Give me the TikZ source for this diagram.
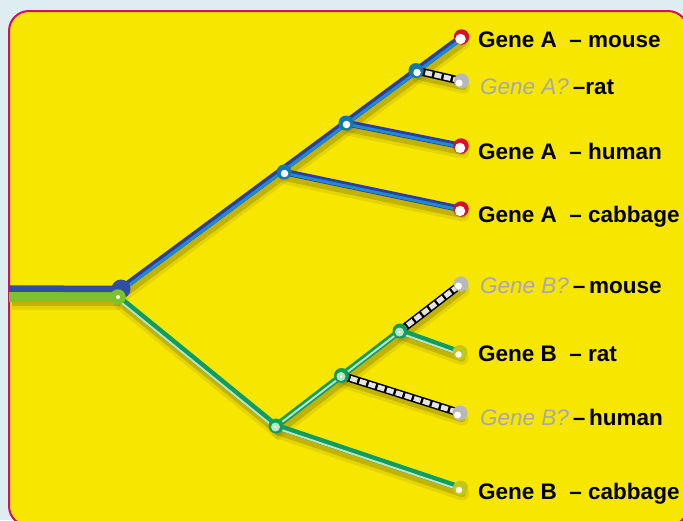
\documentclass[tikz,border=0pt]{standalone}
\usepackage{fontspec}
\setmainfont{Liberation Sans}
\definecolor{bg}{HTML}{DDEDF0}
\definecolor{panel}{HTML}{F7E600}
\definecolor{rim}{HTML}{D3105E}
\definecolor{indigo}{HTML}{2E3C9E}
\definecolor{skyb}{HTML}{1C8BD2}
\definecolor{nodeblue}{HTML}{1478B0}
\definecolor{dgreen}{HTML}{109C5C}
\definecolor{pgreen}{HTML}{B8E4C8}
\definecolor{lime}{HTML}{7CC229}
\definecolor{stemblue}{HTML}{2F4FA2}
\definecolor{leafred}{HTML}{D5102C}
\definecolor{leafgray}{HTML}{B8B8B8}
\definecolor{leafolive}{HTML}{C4C814}
\definecolor{qgray}{HTML}{A8A8A8}
\definecolor{shade}{HTML}{7A6E00}
\definecolor{dashfill}{HTML}{E4E4E4}
\pgfdeclarelayer{panellayer}
\pgfdeclarelayer{shadowlayer}
\pgfdeclarelayer{linelayer}
\pgfsetlayers{panellayer,shadowlayer,linelayer,main}
\tikzset{
  shadowwide/.style={draw=shade, line width=13, opacity=.15, line cap=round, transform canvas={xshift=2pt,yshift=-6pt}},
  shadownarrow/.style={draw=shade, line width=6.5, opacity=.32, line cap=round, transform canvas={xshift=2pt,yshift=-6pt}},
  blueouter/.style={draw=indigo, line width=6.5},
  blueinner/.style={draw=skyb, line width=3, transform canvas={xshift=1pt,yshift=-1.3pt}},
  greenouter/.style={draw=dgreen, line width=6.5},
  greeninner/.style={draw=pgreen, line width=2, transform canvas={xshift=-1.4pt,yshift=-1.7pt}},
  dashouter/.style={draw=black, line width=8},
  dashinner/.style={draw=dashfill, line width=5, dash pattern=on 7 off 2.5},
  dotnode/.style={circle, inner sep=0, minimum size=#1},
  leafredn/.style={dotnode=15.5, fill=leafred},
  leafgrayn/.style={dotnode=15, fill=leafgray},
  leafolv/.style={dotnode=15, fill=leafolive},
  innerblue/.style={dotnode=15, fill=nodeblue},
  innergreen/.style={dotnode=15, fill=dgreen},
  whitedot/.style={dotnode=#1, fill=white},
  palegreendot/.style={dotnode=#1, fill=pgreen},
  lbl/.style={anchor=base west, inner sep=0, font=\fontsize{22.5}{26}\selectfont\bfseries}
}
\begin{document}
\begin{tikzpicture}[x=1pt,y=-1pt]
\useasboundingbox (0,0) rectangle (683,520);
\clip (0,0) rectangle (683,520);
\begin{pgfonlayer}{panellayer}
\fill[bg] (0,0) rectangle (683,520);
\draw[rim, fill=panel, line width=2, rounded corners=20] (9,11) rectangle (688,526);
\end{pgfonlayer}
% positions
\coordinate (sa) at (9,288.5);
\coordinate (sb) at (9,297);
\coordinate (sbs) at (10,297);
\coordinate (r) at (121,289);
\coordinate (rg) at (118,297);
\coordinate (a1) at (284,172);
\coordinate (a2) at (346,123);
\coordinate (a3) at (416,70.5);
\coordinate (am) at (461.5,37);
\coordinate (ar) at (461.5,81);
\coordinate (ah) at (461,146);
\coordinate (ac) at (461,209);
\coordinate (b1) at (276,426);
\coordinate (b2) at (341.5,375.5);
\coordinate (b3) at (400,331);
\coordinate (bm) at (461,284);
\coordinate (br) at (460,352.5);
\coordinate (bh) at (460,413);
\coordinate (bc) at (460.5,488);
% shadows
\begin{pgfonlayer}{shadowlayer}
\foreach \s in {shadowwide,shadownarrow}{
  \draw[\s, line cap=butt] (sbs) -- (rg);
  \draw[\s] (r) -- (am);
  \draw[\s] (a3) -- (ar);
  \draw[\s] (a2) -- (ah);
  \draw[\s] (a1) -- (ac);
  \draw[\s] (rg) -- (b1) -- (bm);
  \draw[\s] (b3) -- (br);
  \draw[\s] (b2) -- (bh);
  \draw[\s] (b1) -- (bc);
}
\end{pgfonlayer}
% connectors
\begin{pgfonlayer}{linelayer}
\draw[draw=lime, line width=10] (sb) -- (rg);
\draw[draw=stemblue, line width=6.5] (sa) -- (r);
\draw[blueouter] (r) -- (am);
\draw[blueinner] (r) -- (am);
\draw[blueouter] (a2) -- (ah);
\draw[blueinner] (a2) -- (ah);
\draw[blueouter] (a1) -- (ac);
\draw[blueinner] (a1) -- (ac);
\draw[dashouter] (a3) -- (ar);
\draw[dashinner] (a3) -- (ar);
\draw[greenouter] (rg) -- (b1);
\draw[greeninner] (rg) -- (b1);
\draw[greenouter] (b1) -- (bm);
\draw[greeninner] (b1) -- (b3);
\draw[greenouter] (b3) -- (br);
\draw[greeninner] (b3) -- (br);
\draw[greenouter] (b1) -- (bc);
\draw[greeninner] (b1) -- (bc);
\draw[dashouter] (b3) -- (bm);
\draw[dashinner] (b3) -- (bm);
\draw[dashouter] (b2) -- (bh);
\draw[dashinner] (b2) -- (bh);
\end{pgfonlayer}
% tree nodes
\node[dotnode=19, fill=stemblue] (rootb) at (r) {};
\node[dotnode=15.5, fill=lime] (rootg) at (rg) {};
\node[whitedot=4] (rootw) at (rg) {};
\node[innerblue] (na1) at (a1) {};
\node[whitedot=7.5] (na1w) at ([shift={(0.5,1.5)}]a1) {};
\node[innerblue] (na2) at (a2) {};
\node[whitedot=7.5] (na2w) at ([shift={(0.5,1.5)}]a2) {};
\node[innerblue] (na3) at (a3) {};
\node[whitedot=7.5] (na3w) at ([shift={(1,2)}]a3) {};
\node[leafredn] (nam) at (am) {};
\node[whitedot=10.5] (namw) at ([shift={(-1,2)}]am) {};
\node[leafredn] (nah) at (ah) {};
\node[whitedot=10.5] (nahw) at ([shift={(-1,2)}]ah) {};
\node[leafredn] (nac) at (ac) {};
\node[whitedot=10.5] (nacw) at ([shift={(-1,2)}]ac) {};
\node[leafgrayn] (nar) at (ar) {};
\node[whitedot=7] (narw) at ([shift={(-2.5,2)}]ar) {};
\node[innergreen] (nb1) at (b1) {};
\node[palegreendot=9] (nb1p) at ([shift={(-0.5,1)}]b1) {};
\node[whitedot=2.5] (nb1w) at ([shift={(-0.5,1)}]b1) {};
\node[innergreen] (nb2) at (b2) {};
\node[palegreendot=9] (nb2p) at ([shift={(-0.5,1)}]b2) {};
\node[whitedot=2.5] (nb2w) at ([shift={(-0.5,1)}]b2) {};
\node[innergreen] (nb3) at (b3) {};
\node[palegreendot=9] (nb3p) at ([shift={(-0.5,1)}]b3) {};
\node[whitedot=2.5] (nb3w) at ([shift={(-0.5,1)}]b3) {};
\node[leafgrayn] (nbm) at (bm) {};
\node[whitedot=7] (nbmw) at ([shift={(-2.5,2)}]bm) {};
\node[leafgrayn] (nbh) at (bh) {};
\node[whitedot=7] (nbhw) at ([shift={(-2.5,2)}]bh) {};
\node[leafolv] (nbr) at (br) {};
\node[whitedot=6.5] (nbrw) at ([shift={(-1.5,2)}]br) {};
\node[leafolv] (nbc) at (bc) {};
\node[whitedot=6.5] (nbcw) at ([shift={(-1.5,2)}]bc) {};
% labels
\node[lbl] (lam) at (478,47) {Gene A~~– mouse};
\node[lbl] (lar) at (480,94) {{\mdseries\itshape\color{qgray}Gene A?}\,–rat};
\node[lbl] (lah) at (478,159) {Gene A~~– human};
\node[lbl] (lac) at (478,222) {Gene A~~– cabbage};
\node[lbl] (lbm) at (480,293) {{\mdseries\itshape\color{qgray}Gene B?}\,–\,mouse};
\node[lbl] (lbr) at (478,361) {Gene B~~– rat};
\node[lbl] (lbh) at (480,425) {{\mdseries\itshape\color{qgray}Gene B?}\,–\,human};
\node[lbl] (lbc) at (478,499) {Gene B~~– cabbage};
\end{tikzpicture}
\end{document}
